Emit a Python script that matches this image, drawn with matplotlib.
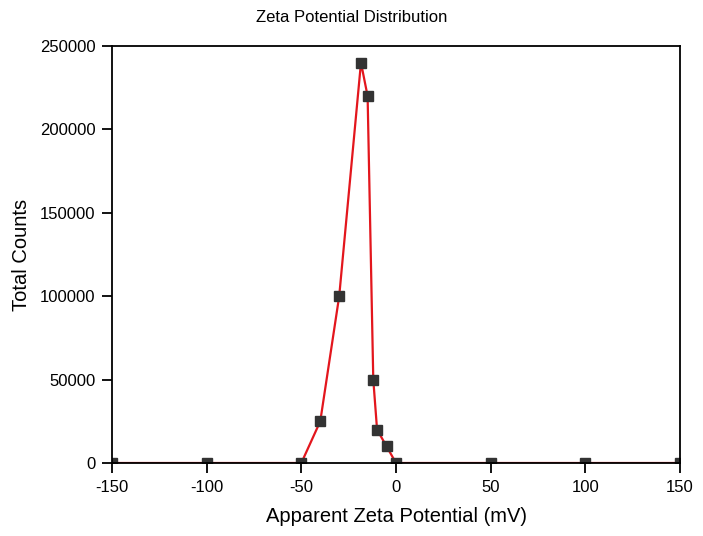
import matplotlib
matplotlib.use("Agg")
import matplotlib.pyplot as plt

# zeta potential (mV) and total counts
zeta = [-150, -100, -50, -40, -30, -18.5, -15, -12, -10, -5, 0, 50, 100, 150]
counts = [0, 0, 0, 25000, 100000, 240000, 220000, 50000, 20000, 10000, 0, 0, 0, 0]

xticks = [-150, -100, -50, 0, 50, 100, 150]
yticks = [0, 50000, 100000, 150000, 200000, 250000]

plt.rcParams['font.family'] = ['Liberation Sans', 'DejaVu Sans']

fig = plt.figure(figsize=(7.03, 5.36), dpi=100)
ax = fig.add_axes([112/703, 1 - 463/536, (680-112)/703, (463-46)/536])

ax.plot(zeta, counts, color='#e3161d', lw=1.6, zorder=2)
ax.plot(zeta, counts, ls='none', marker='s', ms=6.5, color='#333333', zorder=3)

ax.set_xlim(-150, 150)
ax.set_ylim(0, 250000)
ax.set_xticks(xticks)
ax.set_yticks(yticks)
ax.set_xticklabels([str(t) for t in xticks])
ax.set_yticklabels([str(t) for t in yticks])
ax.tick_params(direction='out', length=7, width=1.3, labelsize=12, pad=5)

for s in ax.spines.values():
    s.set_linewidth(1.3)
    s.set_zorder(4)

ax.set_xlabel('Apparent Zeta Potential (mV)', fontsize=14.5, labelpad=9)
ax.set_ylabel('Total Counts', fontsize=14.5, labelpad=6)
fig.text(0.5, 1 - 17/536, 'Zeta Potential Distribution', fontsize=12,
         ha='center', va='center')

fig.savefig('out.png', dpi=100)
